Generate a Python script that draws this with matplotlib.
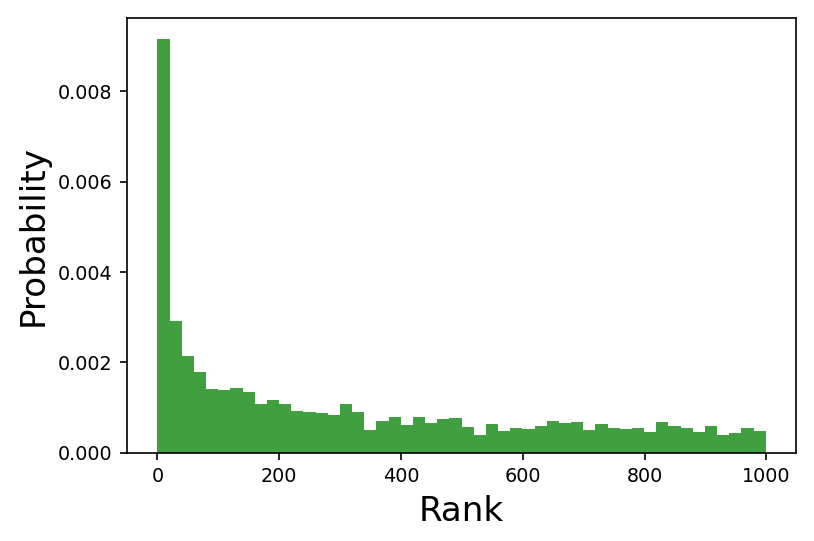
import matplotlib
matplotlib.use('Agg')
import matplotlib.pyplot as plt
import numpy as np

# density of each of the 50 rank bins (0..999)
probability = [
    0.009165, 0.00291, 0.002137, 0.001783, 0.001408, 0.001386, 0.00143, 0.001341, 0.001076, 0.001165,
    0.001076, 0.000921, 0.0009, 0.000877, 0.000833, 0.001076, 0.0009, 0.000502, 0.0007, 0.000789,
    0.000612, 0.000789, 0.000656, 0.000744, 0.00078, 0.000581, 0.000405, 0.000648, 0.000493, 0.000559,
    0.000537, 0.000603, 0.000714, 0.00067, 0.000692, 0.000515, 0.000648, 0.000559, 0.000537, 0.000559,
    0.000471, 0.000692, 0.000603, 0.000559, 0.000471, 0.000603, 0.000405, 0.000449, 0.000559, 0.000493,
]
rank_min, rank_max = 0, 999
edges = np.linspace(rank_min, rank_max, len(probability) + 1)

fig = plt.figure(figsize=(814 / 150, 541 / 150), dpi=150)
ax = fig.add_axes([0.156, 0.163, 0.822, 0.804])
ax.hist(edges[:-1], bins=edges, weights=probability, color='green', alpha=0.75)

ax.set_xlabel('Rank', fontsize=16.4)
ax.set_ylabel('Probability', fontsize=16.4)
ax.tick_params(labelsize=9.2)
ax.set_yticks([0, 0.002, 0.004, 0.006, 0.008])

fig.savefig('out.png', dpi=150)
